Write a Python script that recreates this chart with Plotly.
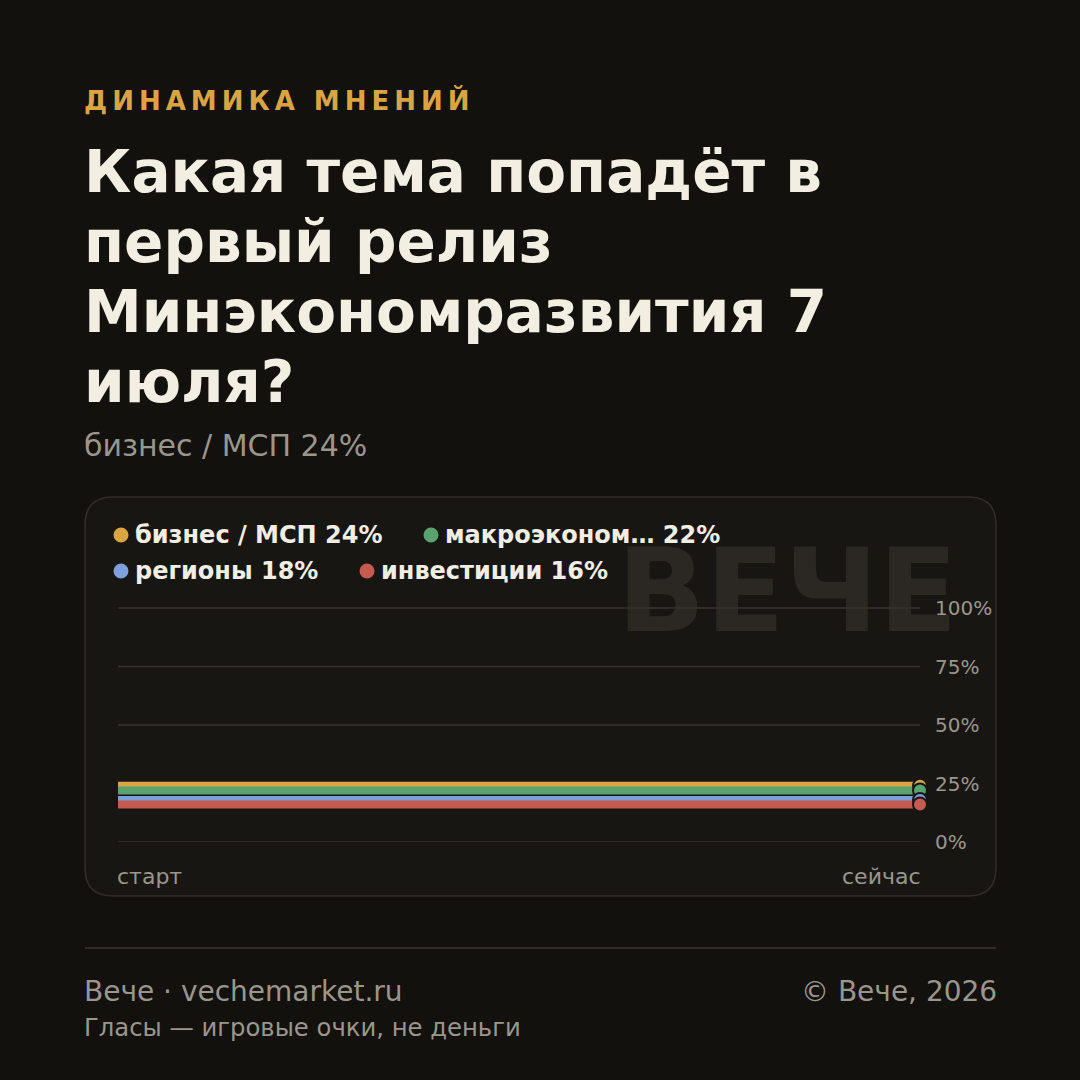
import plotly.graph_objects as go

# ---------------- data ----------------
periods = ["старт", "сейчас"]
series_names = ["бизнес / МСП", "макроэконом…", "регионы", "инвестиции"]
biz = [24, 24]
macro = [22, 22]
regions = [18, 18]
invest = [16, 16]
tick_values = [0, 25, 50, 75, 100]
tick_labels = ["0%", "25%", "50%", "75%", "100%"]

series_values = [biz, macro, regions, invest]
colors = ["#d9a441", "#5aa36e", "#7d9fdd", "#c45b4e"]

# ---------------- style ----------------
FONT = "DejaVu Sans"
BG = "#12110e"
CARD = "#181613"
CARD_LINE = "#312d28"
CREAM = "#f3eee2"
GRAY = "#9b968b"
GOLD = "#d9a441"
GRID = "#37332d"
WM = "#2b2824"

W = H = 1080
# plot area in pixels (extended upward so the watermark sits inside it)
PL, PR, PT, PB = 118, 920, 520, 842
Y0_PX, Y100_PX = 842, 608
YMAX = 100 * (PB - PT) / (Y0_PX - Y100_PX)


def px(x):
    return (x - PL) / (PR - PL)


def py(y):
    return (PB - y) / (PB - PT)


def ydata(y):
    return 100 * (Y0_PX - y) / (Y0_PX - Y100_PX)


fig = go.Figure()

xi = list(range(len(periods)))
xspan = xi[-1] - xi[0]

# watermark (drawn first, under grid)
fig.add_trace(go.Scatter(
    x=[xi[0] + px(617) * xspan], y=[ydata(602)],
    mode="text", text=["ВЕЧЕ"], textposition="middle right",
    textfont=dict(family=FONT, size=116, color=WM, weight="bold"),
    hoverinfo="skip", showlegend=False, cliponaxis=False))

# grid lines
for v in tick_values:
    fig.add_trace(go.Scatter(
        x=[xi[0], xi[-1]], y=[v, v], mode="lines",
        line=dict(color=GRID, width=1.5),
        hoverinfo="skip", showlegend=False, cliponaxis=False))

# series lines
for name, vals, c in zip(series_names, series_values, colors):
    fig.add_trace(go.Scatter(
        x=xi, y=vals, mode="lines", name=name,
        line=dict(color=c, width=8),
        showlegend=False, cliponaxis=False))

# end markers
for name, vals, c in zip(series_names, series_values, colors):
    fig.add_trace(go.Scatter(
        x=[xi[-1]], y=[vals[-1]], mode="markers", name=name,
        marker=dict(color=c, size=14, line=dict(color=CARD, width=2)),
        showlegend=False, cliponaxis=False))


def rr_path(x0, y0, x1, y1, r):
    pts = [
        ("M", (x0 + r, y0)), ("L", (x1 - r, y0)), ("Q", (x1, y0), (x1, y0 + r)),
        ("L", (x1, y1 - r)), ("Q", (x1, y1), (x1 - r, y1)),
        ("L", (x0 + r, y1)), ("Q", (x0, y1), (x0, y1 - r)),
        ("L", (x0, y0 + r)), ("Q", (x0, y0), (x0 + r, y0)),
    ]
    s = ""
    for p in pts:
        coords = " ".join(f"{px(a):.5f},{py(b):.5f}" for a, b in p[1:])
        s += f"{p[0]} {coords} "
    return s + "Z"


shapes = [
    dict(type="path", xref="paper", yref="paper", path=rr_path(85, 497, 996, 896, 28),
         fillcolor=CARD, line=dict(color=CARD_LINE, width=1.5), layer="below"),
    dict(type="line", xref="paper", yref="paper", x0=px(85), x1=px(996), y0=py(948), y1=py(948),
         line=dict(color="#2e2b26", width=2)),
]

annotations = []


def txt(text, x, y, size, color, bold=False, xanchor="left"):
    annotations.append(dict(
        text=text, x=px(x), y=py(y), xref="paper", yref="paper",
        xanchor=xanchor, yanchor="middle", showarrow=False,
        xshift=-3 if xanchor == "left" else 3,
        font=dict(family=FONT, size=size, color=color, weight="bold" if bold else "normal")))


txt('<span style="letter-spacing:5px">ДИНАМИКА МНЕНИЙ</span>', 85, 100, 26, GOLD, bold=True)
title_lines = ["Какая тема попадёт в", "первый релиз", "Минэкономразвития 7", "июля?"]
for i, line in enumerate(title_lines):
    txt(line, 85, 172 + 70 * i, 58, CREAM, bold=True)
txt(f"{series_names[0]} {biz[-1]}%", 85, 445, 30, GRAY)

# legend
leg_pos = [(121, 535), (431, 535), (121, 571), (367, 571)]
for (lx, ly), name, vals, c in zip(leg_pos, series_names, series_values, colors):
    shapes.append(dict(type="circle", xref="paper", yref="paper",
                       xsizemode="pixel", ysizemode="pixel",
                       xanchor=px(lx), yanchor=py(ly), x0=-7.5, x1=7.5, y0=-7.5, y1=7.5,
                       fillcolor=c, line=dict(width=0)))
    txt(f"{name} {vals[-1]}%", lx + 15, ly, 24, CREAM, bold=True)

# x labels
txt(periods[0], PL, 876, 22, GRAY)
txt(periods[-1], PR, 876, 22, GRAY, xanchor="right")

# footer
txt("Вече · vechemarket.ru", 85, 991, 28, GRAY)
txt("© Вече, 2026", 996, 991, 28, GRAY, xanchor="right")
txt("Гласы — игровые очки, не деньги", 85, 1027, 24.3, GRAY)

fig.update_layout(
    width=W, height=H,
    margin=dict(l=PL, r=W - PR, t=PT, b=H - PB, pad=0),
    paper_bgcolor=BG, plot_bgcolor="rgba(0,0,0,0)",
    showlegend=False,
    shapes=shapes, annotations=annotations,
    xaxis=dict(range=[xi[0], xi[-1]], visible=False, fixedrange=True),
    yaxis=dict(range=[0, YMAX], side="right", tickvals=tick_values, ticktext=tick_labels,
               showgrid=False, zeroline=False, showline=False, ticks="",
               ticklabelstandoff=14,
               tickfont=dict(family=FONT, size=20, color=GRAY), fixedrange=True),
    font=dict(family=FONT),
)

fig.write_html("out.html")
